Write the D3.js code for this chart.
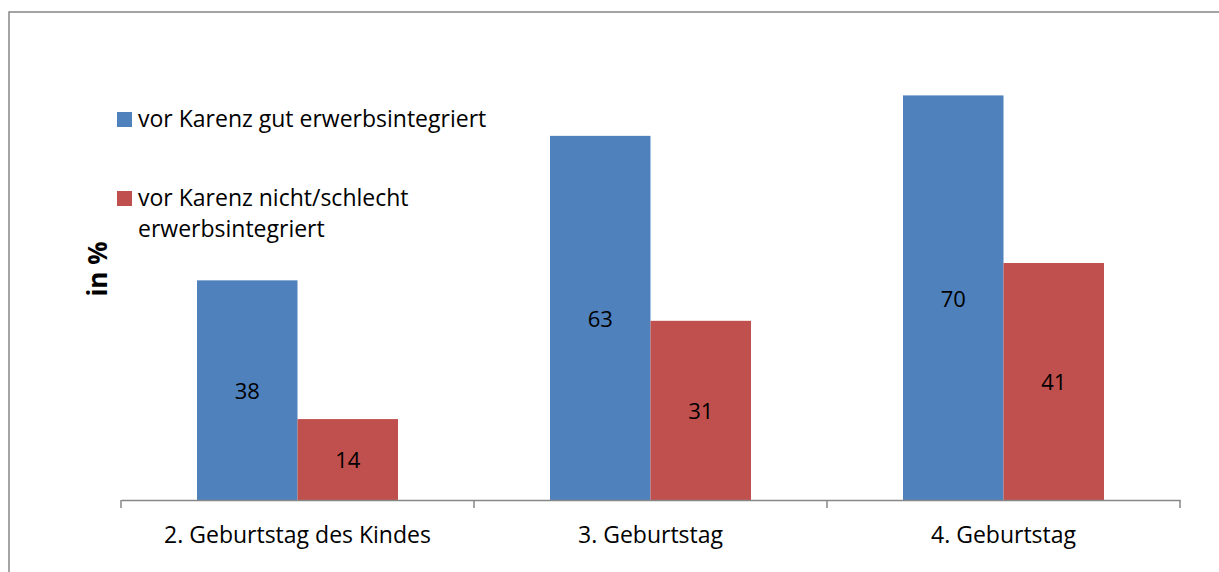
<!DOCTYPE html>
<html>
<head>
<meta charset="utf-8">
<script src="https://d3js.org/d3.v7.min.js"></script>
<style>
  body { margin: 0; background: #fff; }
  svg { display: block; }
</style>
</head>
<body>
<svg id="chart" width="1219" height="572"></svg>
<script>
// chart data
var categories = ["2. Geburtstag des Kindes", "3. Geburtstag", "4. Geburtstag"];
var seriesNames = ["vor Karenz gut erwerbsintegriert", "vor Karenz nicht/schlecht erwerbsintegriert"];
var goodValues = [38, 63, 70];
var poorValues = [14, 31, 41];
var colors = ["#4f81bd", "#c0504d"];

var fontFam = "'Open Sans', 'Noto Sans', sans-serif";
var svg = d3.select("#chart");

// outer frame (runs off the right/bottom edge like the original)
svg.append("rect")
    .attr("x", 9).attr("y", 12)
    .attr("width", 1240).attr("height", 600)
    .attr("fill", "none")
    .attr("stroke", "#878787")
    .attr("stroke-width", 1.5);

var left = 121, right = 1180, baseY = 500, topY = 37.6;

var x = d3.scaleBand()
    .domain(categories)
    .range([left, right])
    .paddingInner(0)
    .paddingOuter(0);

var xs = d3.scaleBand()
    .domain([0, 1])
    .range([76, x.bandwidth() - 76]);

var y = d3.scaleLinear()
    .domain([0, 80])
    .range([baseY, topY]);

var rows = categories.map(function(c, i) {
  return { cat: c, vals: [goodValues[i], poorValues[i]] };
});

var groups = svg.selectAll("g.grp")
    .data(rows)
    .enter().append("g")
    .attr("class", "grp")
    .attr("transform", function(d) { return "translate(" + x(d.cat) + ",0)"; });

groups.selectAll("rect")
    .data(function(d) { return d.vals.map(function(v, j) { return { v: v, j: j }; }); })
    .enter().append("rect")
    .attr("x", function(d) { return xs(d.j); })
    .attr("y", function(d) { return y(d.v); })
    .attr("width", xs.bandwidth())
    .attr("height", function(d) { return baseY - y(d.v); })
    .attr("fill", function(d) { return colors[d.j]; });

groups.selectAll("text.val")
    .data(function(d) { return d.vals.map(function(v, j) { return { v: v, j: j }; }); })
    .enter().append("text")
    .attr("class", "val")
    .attr("x", function(d) { return xs(d.j) + xs.bandwidth() / 2; })
    .attr("y", function(d) { return (y(d.v) + baseY) / 2 + 1; })
    .attr("dy", "0.36em")
    .attr("text-anchor", "middle")
    .style("font-family", fontFam)
    .style("font-size", "22px")
    .attr("fill", "#000")
    .text(function(d) { return d.v; });

// x axis
var xAxis = svg.append("g")
    .attr("transform", "translate(0," + baseY + ")")
    .call(d3.axisBottom(x).tickSize(0).tickPadding(0));
xAxis.select(".domain").attr("stroke", "#878787").attr("stroke-width", 1.5);
xAxis.selectAll("text")
    .attr("dy", null)
    .attr("y", 43)
    .style("font-family", fontFam)
    .style("font-size", "23px")
    .attr("fill", "#000");

// tick marks at category boundaries
var bounds = categories.map(function(c) { return x(c); }).concat([right]);
svg.selectAll("line.bnd")
    .data(bounds)
    .enter().append("line")
    .attr("class", "bnd")
    .attr("x1", function(d) { return d; }).attr("x2", function(d) { return d; })
    .attr("y1", baseY).attr("y2", baseY + 8)
    .attr("stroke", "#878787")
    .attr("stroke-width", 1.5);

// y axis title
svg.append("text")
    .attr("transform", "translate(107,269) rotate(-90)")
    .attr("text-anchor", "middle")
    .style("font-family", fontFam)
    .style("font-size", "26px")
    .style("font-weight", "bold")
    .text("in %");

// legend
var legendLines = [["vor Karenz gut erwerbsintegriert"], ["vor Karenz nicht/schlecht", "erwerbsintegriert"]];
var legendY = [127, 206];
legendLines.forEach(function(lines, i) {
  svg.append("rect")
      .attr("x", 117).attr("y", legendY[i] - 15)
      .attr("width", 15).attr("height", 15)
      .attr("fill", colors[i]);
  var t = svg.append("text")
      .attr("x", 138).attr("y", legendY[i])
      .style("font-family", fontFam)
      .style("font-size", "23px");
  lines.forEach(function(l, k) {
    t.append("tspan").attr("x", 138).attr("dy", k === 0 ? 0 : 31).text(l);
  });
});
</script>
</body>
</html>
